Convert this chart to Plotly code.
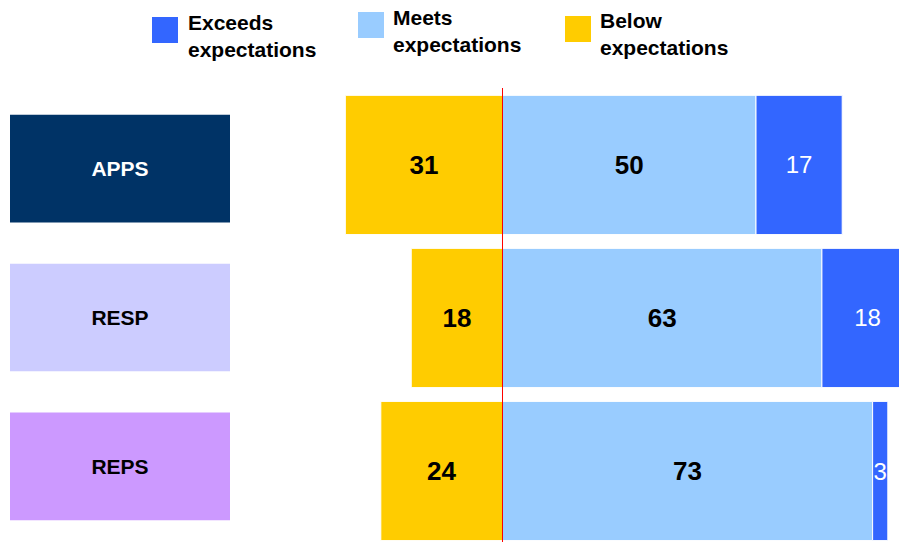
import plotly.graph_objects as go

# ---- data ----
categories = ["APPS", "RESP", "REPS"]
below = [31, 18, 24]
meets = [50, 63, 73]
exceeds = [17, 18, 3]
label_colors = ["#003366", "#CCCCFF", "#CC99FF"]
label_text_colors = ["white", "black", "black"]
legend_names = ["Exceeds<br>expectations", "Meets<br>expectations", "Below<br>expectations"]
legend_colors = ["#3366FF", "#99CCFF", "#FFCC00"]

FONT = "Arial, 'Liberation Sans', sans-serif"
W, H = 899, 542
MT = 88
PH = H - MT


def px_x(p):
    return p / W


def px_y(p):
    return (H - p) / PH


fig = go.Figure()

common = dict(orientation="h", textposition="inside", insidetextanchor="middle",
              textangle=0, constraintext="none", width=0.91, hoverinfo="skip",
              xaxis="x", yaxis="y", showlegend=False,
              marker_line=dict(color="white", width=1))

fig.add_trace(go.Bar(y=categories, x=[-v for v in below], text=[str(v) for v in below],
                     marker_color="#FFCC00",
                     textfont=dict(family=FONT, size=26, color="black", weight="bold"),
                     name="Below expectations", **common))
fig.add_trace(go.Bar(y=categories, x=meets, text=[str(v) for v in meets],
                     marker_color="#99CCFF",
                     textfont=dict(family=FONT, size=26, color="black", weight="bold"),
                     name="Meets expectations", **common))
fig.add_trace(go.Bar(y=categories, x=exceeds, text=[str(v) for v in exceeds],
                     marker_color="#3366FF",
                     textfont=dict(family=FONT, size=24, color="white"),
                     name="Exceeds expectations", **common))

# category label boxes
fig.add_trace(go.Bar(y=categories, x=[1] * len(categories), orientation="h",
                     xaxis="x2", yaxis="y2", width=0.723,
                     marker_color=label_colors, marker_line_width=0,
                     text=categories, textposition="inside", insidetextanchor="middle",
                     textangle=0, constraintext="none",
                     textfont=dict(family=FONT, size=21, color=label_text_colors, weight="bold"),
                     hoverinfo="skip", showlegend=False))

# legend drawn as shapes + annotations
leg_marker_x = [152, 358, 565]
leg_marker_y = [17, 12, 16]
leg_text_x = [186, 391, 598]
leg_text_y = [36, 31, 34]
shapes = []
annotations = []
for i in range(3):
    shapes.append(dict(type="rect", xref="paper", yref="paper",
                       x0=px_x(leg_marker_x[i]), x1=px_x(leg_marker_x[i] + 26),
                       y0=px_y(leg_marker_y[i] + 26), y1=px_y(leg_marker_y[i]),
                       fillcolor=legend_colors[i], line_width=0))
    annotations.append(dict(xref="paper", yref="paper", x=px_x(leg_text_x[i]), y=px_y(leg_text_y[i]),
                            xanchor="left", yanchor="middle", align="left", showarrow=False,
                            text=legend_names[i],
                            font=dict(family=FONT, size=21, color="black", weight="bold")))

# red zero line
shapes.append(dict(type="line", xref="x", yref="paper", x0=0, x1=0, y0=0, y1=1,
                   line=dict(color="red", width=1), layer="above"))

SCALE = 5.07
ZERO = 502.5
DOM0 = 0.3
x_lo = -(ZERO - DOM0 * W) / SCALE
x_hi = (W - ZERO) / SCALE

fig.update_layout(
    width=W, height=H, autosize=False,
    margin=dict(l=0, r=0, t=MT, b=0, pad=0),
    paper_bgcolor="white", plot_bgcolor="white",
    barmode="relative",
    xaxis=dict(domain=[DOM0, 1], range=[x_lo, x_hi], visible=False, anchor="y"),
    yaxis=dict(range=[2.464, -0.503], visible=False, anchor="x", type="category"),
    xaxis2=dict(domain=[10 / W, 230 / W], range=[0, 1], visible=False, anchor="y2"),
    yaxis2=dict(range=[2.508, -0.541], visible=False, anchor="x2", type="category"),
    shapes=shapes, annotations=annotations,
    font=dict(family=FONT),
)

fig.write_html("out.html", config={"displayModeBar": False},
               post_script="document.body.style.margin='0';document.body.style.overflow='hidden';")
